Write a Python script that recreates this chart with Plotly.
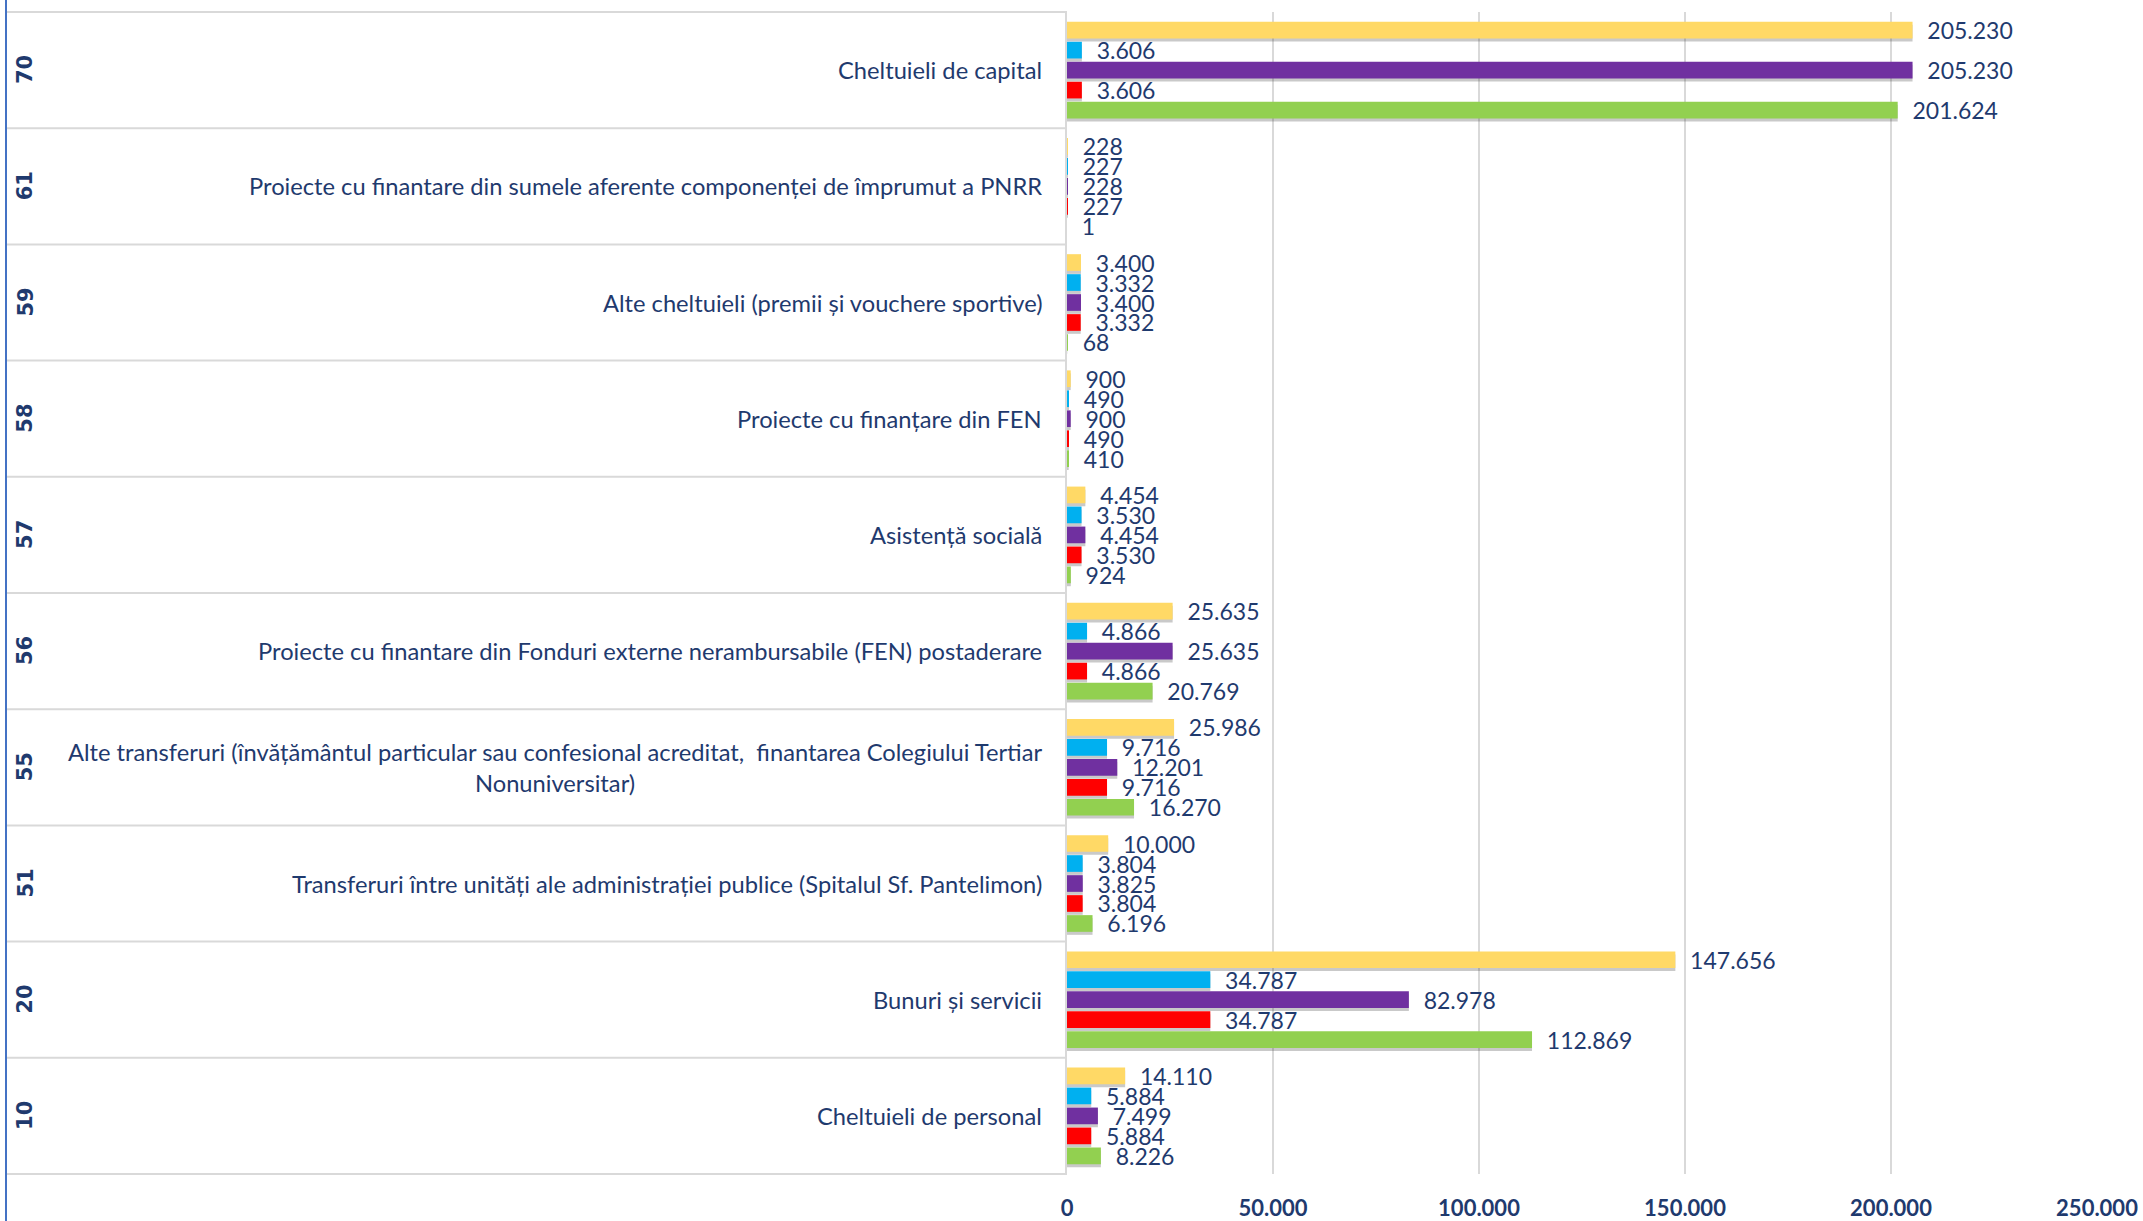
import plotly.graph_objects as go

codes = ["10", "20", "51", "55", "56", "57", "58", "59", "61", "70"]
names = [
    "Cheltuieli de personal",
    "Bunuri și servicii",
    "Transferuri între unități ale administrației publice (Spitalul Sf. Pantelimon)",
    "Alte transferuri (învățământul particular sau confesional acreditat,  finantarea Colegiului Tertiar<br>Nonuniversitar)",
    "Proiecte cu finantare din Fonduri externe nerambursabile (FEN) postaderare",
    "Asistență socială",
    "Proiecte cu finanțare din FEN",
    "Alte cheltuieli (premii și vouchere sportive)",
    "Proiecte cu finantare din sumele aferente componenței de împrumut a PNRR",
    "Cheltuieli de capital",
]

green = [8226, 112869, 6196, 16270, 20769, 924, 410, 68, 1, 201624]
red = [5884, 34787, 3804, 9716, 4866, 3530, 490, 3332, 227, 3606]
purple = [7499, 82978, 3825, 12201, 25635, 4454, 900, 3400, 228, 205230]
blue = [5884, 34787, 3804, 9716, 4866, 3530, 490, 3332, 227, 3606]
yellow = [14110, 147656, 10000, 25986, 25635, 4454, 900, 3400, 228, 205230]

series = [
    ("Seria 1", green, "#92D050"),
    ("Seria 2", red, "#FF0000"),
    ("Seria 3", purple, "#7030A0"),
    ("Seria 4", blue, "#00B0F0"),
    ("Seria 5", yellow, "#FFD966"),
]

x_ticks = [0, 50000, 100000, 150000, 200000, 250000]

W, H = 2143, 1221
ML, MR, MT, MB = 1067, 46, 12, 47
PW = W - ML - MR
PH = H - MT - MB
NAVY = "#1F3A6E"
FONT = "Lato, 'Open Sans', sans-serif"
n = len(codes)
BAND_PX = PH / n

BARGAP = 0.14
SLOT = (1 - BARGAP) / len(series)
BW = SLOT * 0.835
SH = 3.0 / BAND_PX  # shadow offset (3 px down)


def px2x(px):
    return (px - ML) / PW


def py2y(py):
    return (H - MB - py) / PH


ypos = list(range(n))

fig = go.Figure()
# shadows
for j, (name, vals, col) in enumerate(series):
    center = (j - (len(series) - 1) / 2) * SLOT
    fig.add_trace(go.Bar(
        y=ypos, x=vals, orientation="h", width=BW,
        offset=center - BW / 2 - SH,
        marker=dict(color="rgba(60,60,60,0.28)", line=dict(width=0)),
        hoverinfo="skip", showlegend=False,
    ))
# bars
for j, (name, vals, col) in enumerate(series):
    center = (j - (len(series) - 1) / 2) * SLOT
    fig.add_trace(go.Bar(
        y=ypos, x=vals, name=name, orientation="h", width=BW,
        offset=center - BW / 2,
        marker=dict(color=col, line=dict(width=0)),
        texttemplate="\u00a0\u00a0%{x:,}", textposition="outside",
        textfont=dict(family=FONT, size=23, color=NAVY),
        constraintext="none", cliponaxis=False,
    ))

shapes = []
for k in range(n + 1):
    shapes.append(dict(type="line", xref="paper", yref="paper",
                       x0=px2x(7), x1=0, y0=k / n, y1=k / n,
                       line=dict(color="#D9D9D9", width=2), layer="below"))
shapes.append(dict(type="line", xref="paper", yref="paper",
                   x0=px2x(6), x1=px2x(6), y0=py2y(0), y1=py2y(H),
                   line=dict(color="#4472C4", width=2)))

annotations = []
for i, (c, nm) in enumerate(zip(codes, names)):
    yc = (i + 0.5) / n
    annotations.append(dict(xref="paper", yref="paper", x=0, y=yc, xshift=-23,
                            xanchor="right", yanchor="middle", text=nm,
                            showarrow=False, align="center",
                            font=dict(family=FONT, size=23.7, color=NAVY)))
    annotations.append(dict(xref="paper", yref="paper", x=px2x(25), y=yc,
                            xanchor="center", yanchor="middle", text=c,
                            textangle=-90, showarrow=False,
                            font=dict(family="DejaVu Sans", size=21, color=NAVY,
                                      weight="bold")))

fig.update_layout(
    width=W, height=H,
    margin=dict(l=ML, r=MR, t=MT, b=MB, pad=0, autoexpand=False),
    paper_bgcolor="white", plot_bgcolor="white",
    barmode="overlay",
    showlegend=False,
    separators=",.",
    shapes=shapes, annotations=annotations,
    xaxis=dict(range=[0, 250000], tickvals=x_ticks, tickformat=",",
               showgrid=True, gridcolor="#D9D9D9", gridwidth=1.5,
               zeroline=False, showline=False, ticks="", automargin=False,
               ticklabelstandoff=19,
               tickfont=dict(family=FONT, size=22, color=NAVY, weight="bold")),
    yaxis=dict(range=[-0.5, n - 0.5], showticklabels=False,
               tickvals=ypos, ticktext=codes,
               showgrid=False, zeroline=False, showline=True, automargin=False,
               linecolor="#D9D9D9", linewidth=2, ticks=""),
)

fig.write_html("out.html",
               config={"displayModeBar": False},
               post_script="document.body.style.margin='0';"
                           "document.body.style.overflow='hidden';")
